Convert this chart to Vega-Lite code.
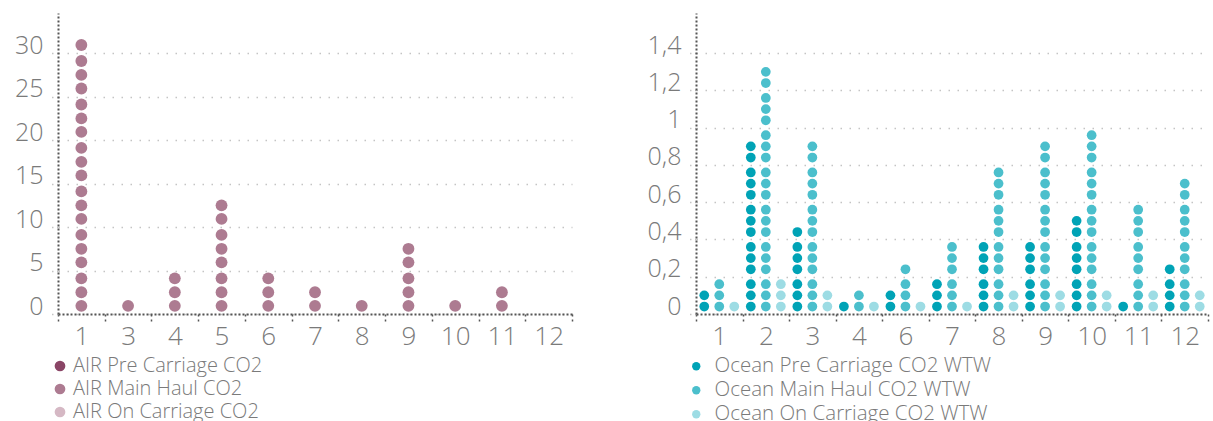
{
"$schema":"https://vega.github.io/schema/vega-lite/v6.json",
"padding":{"left":8,"top":13,"right":5,"bottom":0},
"background":"white",
"spacing":73,
"config":{
 "view":{"stroke":null},
 "font":"Open Sans",
 "axis":{"labelFont":"Open Sans","labelFontWeight":300,"labelColor":"#7a7a7a","domainColor":"#555555","domainDash":[2,2],"domainWidth":2,"gridColor":"#c4c4c4","gridDash":[1.5,7.5],"gridWidth":1.5},
 "legend":{"orient":"none","direction":"vertical","symbolType":"circle","symbolOpacity":1,"labelFont":"Open Sans","labelColor":"#7a7a7a","labelFontWeight":300,"rowPadding":3,"padding":0,"labelLimit":400}
},
"datasets":{
"air":[
{"m":"1","s":"AIR Main Haul CO2","v":0.94},{"m":"1","s":"AIR Main Haul CO2","v":2.5},{"m":"1","s":"AIR Main Haul CO2","v":4.1},{"m":"1","s":"AIR Main Haul CO2","v":5.94},{"m":"1","s":"AIR Main Haul CO2","v":7.5},{"m":"1","s":"AIR Main Haul CO2","v":9.1},{"m":"1","s":"AIR Main Haul CO2","v":10.94},{"m":"1","s":"AIR Main Haul CO2","v":12.5},{"m":"1","s":"AIR Main Haul CO2","v":14.1},{"m":"1","s":"AIR Main Haul CO2","v":15.94},{"m":"1","s":"AIR Main Haul CO2","v":17.5},{"m":"1","s":"AIR Main Haul CO2","v":19.1},{"m":"1","s":"AIR Main Haul CO2","v":20.94},{"m":"1","s":"AIR Main Haul CO2","v":22.5},{"m":"1","s":"AIR Main Haul CO2","v":24.1},{"m":"1","s":"AIR Main Haul CO2","v":25.94},{"m":"1","s":"AIR Main Haul CO2","v":27.5},{"m":"1","s":"AIR Main Haul CO2","v":29.1},{"m":"1","s":"AIR Main Haul CO2","v":30.94},
{"m":"3","s":"AIR Main Haul CO2","v":0.94},
{"m":"4","s":"AIR Main Haul CO2","v":0.94},{"m":"4","s":"AIR Main Haul CO2","v":2.5},{"m":"4","s":"AIR Main Haul CO2","v":4.1},
{"m":"5","s":"AIR Main Haul CO2","v":0.94},{"m":"5","s":"AIR Main Haul CO2","v":2.5},{"m":"5","s":"AIR Main Haul CO2","v":4.1},{"m":"5","s":"AIR Main Haul CO2","v":5.94},{"m":"5","s":"AIR Main Haul CO2","v":7.5},{"m":"5","s":"AIR Main Haul CO2","v":9.1},{"m":"5","s":"AIR Main Haul CO2","v":10.94},{"m":"5","s":"AIR Main Haul CO2","v":12.5},
{"m":"6","s":"AIR Main Haul CO2","v":0.94},{"m":"6","s":"AIR Main Haul CO2","v":2.5},{"m":"6","s":"AIR Main Haul CO2","v":4.1},
{"m":"7","s":"AIR Main Haul CO2","v":0.94},{"m":"7","s":"AIR Main Haul CO2","v":2.5},
{"m":"8","s":"AIR Main Haul CO2","v":0.94},
{"m":"9","s":"AIR Main Haul CO2","v":0.94},{"m":"9","s":"AIR Main Haul CO2","v":2.5},{"m":"9","s":"AIR Main Haul CO2","v":4.1},{"m":"9","s":"AIR Main Haul CO2","v":5.94},{"m":"9","s":"AIR Main Haul CO2","v":7.5},
{"m":"10","s":"AIR Main Haul CO2","v":0.94},
{"m":"11","s":"AIR Main Haul CO2","v":0.94},{"m":"11","s":"AIR Main Haul CO2","v":2.5}
],
"ocean":[
{"m":"1","s":"Ocean Pre Carriage CO2 WTW","v":0.04},{"m":"1","s":"Ocean Pre Carriage CO2 WTW","v":0.10},
{"m":"1","s":"Ocean Main Haul CO2 WTW","v":0.04},{"m":"1","s":"Ocean Main Haul CO2 WTW","v":0.10},{"m":"1","s":"Ocean Main Haul CO2 WTW","v":0.16},
{"m":"1","s":"Ocean On Carriage CO2 WTW","v":0.04},
{"m":"2","s":"Ocean Pre Carriage CO2 WTW","v":0.04},{"m":"2","s":"Ocean Pre Carriage CO2 WTW","v":0.10},{"m":"2","s":"Ocean Pre Carriage CO2 WTW","v":0.16},{"m":"2","s":"Ocean Pre Carriage CO2 WTW","v":0.24},{"m":"2","s":"Ocean Pre Carriage CO2 WTW","v":0.30},{"m":"2","s":"Ocean Pre Carriage CO2 WTW","v":0.36},{"m":"2","s":"Ocean Pre Carriage CO2 WTW","v":0.44},{"m":"2","s":"Ocean Pre Carriage CO2 WTW","v":0.50},{"m":"2","s":"Ocean Pre Carriage CO2 WTW","v":0.56},{"m":"2","s":"Ocean Pre Carriage CO2 WTW","v":0.64},{"m":"2","s":"Ocean Pre Carriage CO2 WTW","v":0.70},{"m":"2","s":"Ocean Pre Carriage CO2 WTW","v":0.76},{"m":"2","s":"Ocean Pre Carriage CO2 WTW","v":0.84},{"m":"2","s":"Ocean Pre Carriage CO2 WTW","v":0.90},
{"m":"2","s":"Ocean Main Haul CO2 WTW","v":0.04},{"m":"2","s":"Ocean Main Haul CO2 WTW","v":0.10},{"m":"2","s":"Ocean Main Haul CO2 WTW","v":0.16},{"m":"2","s":"Ocean Main Haul CO2 WTW","v":0.24},{"m":"2","s":"Ocean Main Haul CO2 WTW","v":0.30},{"m":"2","s":"Ocean Main Haul CO2 WTW","v":0.36},{"m":"2","s":"Ocean Main Haul CO2 WTW","v":0.44},{"m":"2","s":"Ocean Main Haul CO2 WTW","v":0.50},{"m":"2","s":"Ocean Main Haul CO2 WTW","v":0.56},{"m":"2","s":"Ocean Main Haul CO2 WTW","v":0.64},{"m":"2","s":"Ocean Main Haul CO2 WTW","v":0.70},{"m":"2","s":"Ocean Main Haul CO2 WTW","v":0.76},{"m":"2","s":"Ocean Main Haul CO2 WTW","v":0.84},{"m":"2","s":"Ocean Main Haul CO2 WTW","v":0.90},{"m":"2","s":"Ocean Main Haul CO2 WTW","v":0.96},{"m":"2","s":"Ocean Main Haul CO2 WTW","v":1.04},{"m":"2","s":"Ocean Main Haul CO2 WTW","v":1.10},{"m":"2","s":"Ocean Main Haul CO2 WTW","v":1.16},{"m":"2","s":"Ocean Main Haul CO2 WTW","v":1.24},{"m":"2","s":"Ocean Main Haul CO2 WTW","v":1.30},
{"m":"2","s":"Ocean On Carriage CO2 WTW","v":0.04},{"m":"2","s":"Ocean On Carriage CO2 WTW","v":0.10},{"m":"2","s":"Ocean On Carriage CO2 WTW","v":0.16},
{"m":"3","s":"Ocean Pre Carriage CO2 WTW","v":0.04},{"m":"3","s":"Ocean Pre Carriage CO2 WTW","v":0.10},{"m":"3","s":"Ocean Pre Carriage CO2 WTW","v":0.16},{"m":"3","s":"Ocean Pre Carriage CO2 WTW","v":0.24},{"m":"3","s":"Ocean Pre Carriage CO2 WTW","v":0.30},{"m":"3","s":"Ocean Pre Carriage CO2 WTW","v":0.36},{"m":"3","s":"Ocean Pre Carriage CO2 WTW","v":0.44},
{"m":"3","s":"Ocean Main Haul CO2 WTW","v":0.04},{"m":"3","s":"Ocean Main Haul CO2 WTW","v":0.10},{"m":"3","s":"Ocean Main Haul CO2 WTW","v":0.16},{"m":"3","s":"Ocean Main Haul CO2 WTW","v":0.24},{"m":"3","s":"Ocean Main Haul CO2 WTW","v":0.30},{"m":"3","s":"Ocean Main Haul CO2 WTW","v":0.36},{"m":"3","s":"Ocean Main Haul CO2 WTW","v":0.44},{"m":"3","s":"Ocean Main Haul CO2 WTW","v":0.50},{"m":"3","s":"Ocean Main Haul CO2 WTW","v":0.56},{"m":"3","s":"Ocean Main Haul CO2 WTW","v":0.64},{"m":"3","s":"Ocean Main Haul CO2 WTW","v":0.70},{"m":"3","s":"Ocean Main Haul CO2 WTW","v":0.76},{"m":"3","s":"Ocean Main Haul CO2 WTW","v":0.84},{"m":"3","s":"Ocean Main Haul CO2 WTW","v":0.90},
{"m":"3","s":"Ocean On Carriage CO2 WTW","v":0.04},{"m":"3","s":"Ocean On Carriage CO2 WTW","v":0.10},
{"m":"4","s":"Ocean Pre Carriage CO2 WTW","v":0.04},
{"m":"4","s":"Ocean Main Haul CO2 WTW","v":0.04},{"m":"4","s":"Ocean Main Haul CO2 WTW","v":0.10},
{"m":"4","s":"Ocean On Carriage CO2 WTW","v":0.04},
{"m":"6","s":"Ocean Pre Carriage CO2 WTW","v":0.04},{"m":"6","s":"Ocean Pre Carriage CO2 WTW","v":0.10},
{"m":"6","s":"Ocean Main Haul CO2 WTW","v":0.04},{"m":"6","s":"Ocean Main Haul CO2 WTW","v":0.10},{"m":"6","s":"Ocean Main Haul CO2 WTW","v":0.16},{"m":"6","s":"Ocean Main Haul CO2 WTW","v":0.24},
{"m":"6","s":"Ocean On Carriage CO2 WTW","v":0.04},
{"m":"7","s":"Ocean Pre Carriage CO2 WTW","v":0.04},{"m":"7","s":"Ocean Pre Carriage CO2 WTW","v":0.10},{"m":"7","s":"Ocean Pre Carriage CO2 WTW","v":0.16},
{"m":"7","s":"Ocean Main Haul CO2 WTW","v":0.04},{"m":"7","s":"Ocean Main Haul CO2 WTW","v":0.10},{"m":"7","s":"Ocean Main Haul CO2 WTW","v":0.16},{"m":"7","s":"Ocean Main Haul CO2 WTW","v":0.24},{"m":"7","s":"Ocean Main Haul CO2 WTW","v":0.30},{"m":"7","s":"Ocean Main Haul CO2 WTW","v":0.36},
{"m":"7","s":"Ocean On Carriage CO2 WTW","v":0.04},
{"m":"8","s":"Ocean Pre Carriage CO2 WTW","v":0.04},{"m":"8","s":"Ocean Pre Carriage CO2 WTW","v":0.10},{"m":"8","s":"Ocean Pre Carriage CO2 WTW","v":0.16},{"m":"8","s":"Ocean Pre Carriage CO2 WTW","v":0.24},{"m":"8","s":"Ocean Pre Carriage CO2 WTW","v":0.30},{"m":"8","s":"Ocean Pre Carriage CO2 WTW","v":0.36},
{"m":"8","s":"Ocean Main Haul CO2 WTW","v":0.04},{"m":"8","s":"Ocean Main Haul CO2 WTW","v":0.10},{"m":"8","s":"Ocean Main Haul CO2 WTW","v":0.16},{"m":"8","s":"Ocean Main Haul CO2 WTW","v":0.24},{"m":"8","s":"Ocean Main Haul CO2 WTW","v":0.30},{"m":"8","s":"Ocean Main Haul CO2 WTW","v":0.36},{"m":"8","s":"Ocean Main Haul CO2 WTW","v":0.44},{"m":"8","s":"Ocean Main Haul CO2 WTW","v":0.50},{"m":"8","s":"Ocean Main Haul CO2 WTW","v":0.56},{"m":"8","s":"Ocean Main Haul CO2 WTW","v":0.64},{"m":"8","s":"Ocean Main Haul CO2 WTW","v":0.70},{"m":"8","s":"Ocean Main Haul CO2 WTW","v":0.76},
{"m":"8","s":"Ocean On Carriage CO2 WTW","v":0.04},{"m":"8","s":"Ocean On Carriage CO2 WTW","v":0.10},
{"m":"9","s":"Ocean Pre Carriage CO2 WTW","v":0.04},{"m":"9","s":"Ocean Pre Carriage CO2 WTW","v":0.10},{"m":"9","s":"Ocean Pre Carriage CO2 WTW","v":0.16},{"m":"9","s":"Ocean Pre Carriage CO2 WTW","v":0.24},{"m":"9","s":"Ocean Pre Carriage CO2 WTW","v":0.30},{"m":"9","s":"Ocean Pre Carriage CO2 WTW","v":0.36},
{"m":"9","s":"Ocean Main Haul CO2 WTW","v":0.04},{"m":"9","s":"Ocean Main Haul CO2 WTW","v":0.10},{"m":"9","s":"Ocean Main Haul CO2 WTW","v":0.16},{"m":"9","s":"Ocean Main Haul CO2 WTW","v":0.24},{"m":"9","s":"Ocean Main Haul CO2 WTW","v":0.30},{"m":"9","s":"Ocean Main Haul CO2 WTW","v":0.36},{"m":"9","s":"Ocean Main Haul CO2 WTW","v":0.44},{"m":"9","s":"Ocean Main Haul CO2 WTW","v":0.50},{"m":"9","s":"Ocean Main Haul CO2 WTW","v":0.56},{"m":"9","s":"Ocean Main Haul CO2 WTW","v":0.64},{"m":"9","s":"Ocean Main Haul CO2 WTW","v":0.70},{"m":"9","s":"Ocean Main Haul CO2 WTW","v":0.76},{"m":"9","s":"Ocean Main Haul CO2 WTW","v":0.84},{"m":"9","s":"Ocean Main Haul CO2 WTW","v":0.90},
{"m":"9","s":"Ocean On Carriage CO2 WTW","v":0.04},{"m":"9","s":"Ocean On Carriage CO2 WTW","v":0.10},
{"m":"10","s":"Ocean Pre Carriage CO2 WTW","v":0.04},{"m":"10","s":"Ocean Pre Carriage CO2 WTW","v":0.10},{"m":"10","s":"Ocean Pre Carriage CO2 WTW","v":0.16},{"m":"10","s":"Ocean Pre Carriage CO2 WTW","v":0.24},{"m":"10","s":"Ocean Pre Carriage CO2 WTW","v":0.30},{"m":"10","s":"Ocean Pre Carriage CO2 WTW","v":0.36},{"m":"10","s":"Ocean Pre Carriage CO2 WTW","v":0.44},{"m":"10","s":"Ocean Pre Carriage CO2 WTW","v":0.50},
{"m":"10","s":"Ocean Main Haul CO2 WTW","v":0.04},{"m":"10","s":"Ocean Main Haul CO2 WTW","v":0.10},{"m":"10","s":"Ocean Main Haul CO2 WTW","v":0.16},{"m":"10","s":"Ocean Main Haul CO2 WTW","v":0.24},{"m":"10","s":"Ocean Main Haul CO2 WTW","v":0.30},{"m":"10","s":"Ocean Main Haul CO2 WTW","v":0.36},{"m":"10","s":"Ocean Main Haul CO2 WTW","v":0.44},{"m":"10","s":"Ocean Main Haul CO2 WTW","v":0.50},{"m":"10","s":"Ocean Main Haul CO2 WTW","v":0.56},{"m":"10","s":"Ocean Main Haul CO2 WTW","v":0.64},{"m":"10","s":"Ocean Main Haul CO2 WTW","v":0.70},{"m":"10","s":"Ocean Main Haul CO2 WTW","v":0.76},{"m":"10","s":"Ocean Main Haul CO2 WTW","v":0.84},{"m":"10","s":"Ocean Main Haul CO2 WTW","v":0.90},{"m":"10","s":"Ocean Main Haul CO2 WTW","v":0.96},
{"m":"10","s":"Ocean On Carriage CO2 WTW","v":0.04},{"m":"10","s":"Ocean On Carriage CO2 WTW","v":0.10},
{"m":"11","s":"Ocean Pre Carriage CO2 WTW","v":0.04},
{"m":"11","s":"Ocean Main Haul CO2 WTW","v":0.04},{"m":"11","s":"Ocean Main Haul CO2 WTW","v":0.10},{"m":"11","s":"Ocean Main Haul CO2 WTW","v":0.16},{"m":"11","s":"Ocean Main Haul CO2 WTW","v":0.24},{"m":"11","s":"Ocean Main Haul CO2 WTW","v":0.30},{"m":"11","s":"Ocean Main Haul CO2 WTW","v":0.36},{"m":"11","s":"Ocean Main Haul CO2 WTW","v":0.44},{"m":"11","s":"Ocean Main Haul CO2 WTW","v":0.50},{"m":"11","s":"Ocean Main Haul CO2 WTW","v":0.56},
{"m":"11","s":"Ocean On Carriage CO2 WTW","v":0.04},{"m":"11","s":"Ocean On Carriage CO2 WTW","v":0.10},
{"m":"12","s":"Ocean Pre Carriage CO2 WTW","v":0.04},{"m":"12","s":"Ocean Pre Carriage CO2 WTW","v":0.10},{"m":"12","s":"Ocean Pre Carriage CO2 WTW","v":0.16},{"m":"12","s":"Ocean Pre Carriage CO2 WTW","v":0.24},
{"m":"12","s":"Ocean Main Haul CO2 WTW","v":0.04},{"m":"12","s":"Ocean Main Haul CO2 WTW","v":0.10},{"m":"12","s":"Ocean Main Haul CO2 WTW","v":0.16},{"m":"12","s":"Ocean Main Haul CO2 WTW","v":0.24},{"m":"12","s":"Ocean Main Haul CO2 WTW","v":0.30},{"m":"12","s":"Ocean Main Haul CO2 WTW","v":0.36},{"m":"12","s":"Ocean Main Haul CO2 WTW","v":0.44},{"m":"12","s":"Ocean Main Haul CO2 WTW","v":0.50},{"m":"12","s":"Ocean Main Haul CO2 WTW","v":0.56},{"m":"12","s":"Ocean Main Haul CO2 WTW","v":0.64},{"m":"12","s":"Ocean Main Haul CO2 WTW","v":0.70},
{"m":"12","s":"Ocean On Carriage CO2 WTW","v":0.04},{"m":"12","s":"Ocean On Carriage CO2 WTW","v":0.10}
]
},
"hconcat":[
{
 "width":514,"height":301,
 "data":{"name":"air"},
 "mark":{"type":"circle","opacity":1,"size":140},
 "encoding":{
  "x":{"field":"m","type":"ordinal","scale":{"domain":["1","3","4","5","6","7","8","9","10","11","12"],"paddingInner":0,"paddingOuter":0},
       "axis":{"title":null,"labelAngle":0,"labelFontSize":26,"labelPadding":1,"tickBand":"extent","tickSize":8,"tickDash":[2,3],"tickColor":"#555555","tickWidth":1.5,"grid":false}},
  "xOffset":{"field":"s","type":"nominal","scale":{"domain":["AIR Pre Carriage CO2","AIR Main Haul CO2","AIR On Carriage CO2"],"padding":0.55}},
  "y":{"field":"v","type":"quantitative","scale":{"domain":[0,34.62],"nice":false},
       "axis":{"title":null,"values":[0,5,10,15,20,25,30],"labelFontSize":25,"labelBaseline":"alphabetic","labelPadding":6,"tickSize":9,"tickColor":"#c4c4c4","tickDash":[1.5,3.5],"tickWidth":1.5,"grid":true,"minExtent":50,"maxExtent":50}},
  "color":{"field":"s","type":"nominal","scale":{"domain":["AIR Pre Carriage CO2","AIR Main Haul CO2","AIR On Carriage CO2"],"range":["#8a4566","#ad7b91","#d5b8c4"]},
       "legend":{"title":null,"legendX":-8,"legendY":343,"symbolSize":115,"labelOffset":3,"labelFontSize":20}}
 }
},
{
 "width":512,"height":301,
 "data":{"name":"ocean"},
 "mark":{"type":"circle","opacity":1,"size":95},
 "encoding":{
  "x":{"field":"m","type":"ordinal","scale":{"domain":["1","2","3","4","6","7","8","9","10","11","12"],"paddingInner":0,"paddingOuter":0},
       "axis":{"title":null,"labelAngle":0,"labelFontSize":26,"labelPadding":1,"tickBand":"extent","tickSize":8,"tickDash":[2,3],"tickColor":"#555555","tickWidth":1.5,"grid":false}},
  "xOffset":{"field":"s","type":"nominal","scale":{"domain":["Ocean Pre Carriage CO2 WTW","Ocean Main Haul CO2 WTW","Ocean On Carriage CO2 WTW"],"padding":0.55}},
  "y":{"field":"v","type":"quantitative","scale":{"domain":[0,1.616],"nice":false},
       "axis":{"title":null,"values":[0,0.2,0.4,0.6,0.8,1,1.2,1.4],"labelExpr":"replace(format(datum.value,'~g'),'.',',')","labelFontSize":25,"labelBaseline":"alphabetic","labelPadding":6,"tickSize":9,"tickColor":"#c4c4c4","tickDash":[1.5,3.5],"tickWidth":1.5,"grid":true,"minExtent":50,"maxExtent":50}},
  "color":{"field":"s","type":"nominal","scale":{"domain":["Ocean Pre Carriage CO2 WTW","Ocean Main Haul CO2 WTW","Ocean On Carriage CO2 WTW"],"range":["#00a3b6","#4bbfcc","#9ddce4"]},
       "legend":{"title":null,"legendX":-10,"legendY":343,"symbolSize":70,"labelOffset":8,"labelFontSize":20.5}}
 }
}
],
"resolve":{"scale":{"color":"independent","x":"independent","y":"independent","xOffset":"independent"},"legend":{"color":"independent"}}
}
